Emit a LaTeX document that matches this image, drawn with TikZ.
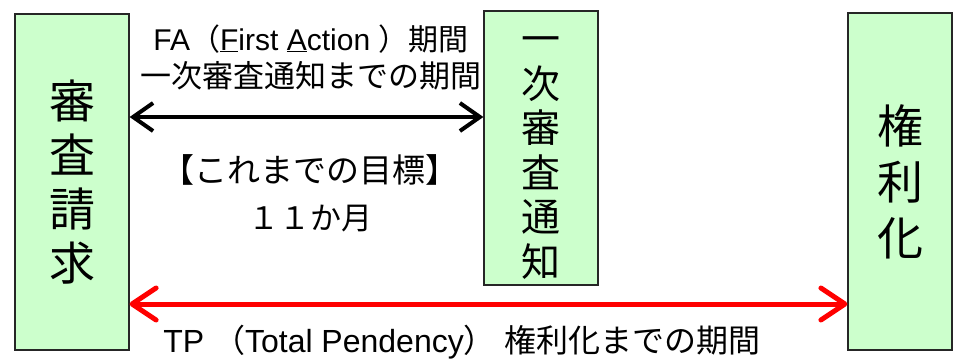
\documentclass[tikz,border=0pt]{standalone}
\usepackage{fontspec}
\setmainfont{Liberation Sans}
\newfontfamily\cjk{Noto Sans CJK JP}
\usetikzlibrary{arrows.meta}
\definecolor{boxgreen}{HTML}{CCFFCC}
\tikzset{
  stage/.style={draw=black!85, line width=1.2pt, fill=boxgreen, inner sep=0pt},
  vtext/.style={inner sep=0pt, align=center},
  lbl/.style={inner sep=0pt, align=center, font=\fontsize{30}{37}\selectfont},
  faarrow/.style={line width=4pt, {Straight Barb[length=20pt,width=28pt,line width=4pt]}-{Straight Barb[length=20pt,width=28pt,line width=4pt]}},
  tparrow/.style={red, line width=5pt, line cap=round, {Straight Barb[length=24pt,width=32pt,round,line width=5pt]}-{Straight Barb[length=24pt,width=32pt,round,line width=5pt]}}
}
\begin{document}
\begin{tikzpicture}[x=1pt,y=-1pt]
\useasboundingbox (0,0) rectangle (953,360);
\node[stage, minimum width=114pt, minimum height=336pt] (req) at (72,182) {};
\node[stage, minimum width=114pt, minimum height=274pt] (fa) at (541,148) {};
\node[stage, minimum width=104pt, minimum height=337pt] (grant) at (900,181.5) {};
\node[vtext, font=\cjk\fontsize{46}{54}\selectfont] (reqtxt) at (req.center) {審\\査\\請\\求};
\node[vtext, font=\cjk\fontsize{39}{44.5}\selectfont] (fatxt) at ([yshift=-10pt]fa.center) {一\\次\\審\\査\\通\\知};
\node[vtext, font=\cjk\fontsize{46}{56}\selectfont] (granttxt) at (grant.center) {権\\利\\化};
\coordinate (yfa) at (0,117);
\coordinate (ytp) at (0,304);
\draw[faarrow] (req.east |- yfa) -- (fa.west |- yfa);
\draw[tparrow] (req.east |- ytp) -- (grant.west |- ytp);
\node[lbl] (falbl) at (311,57) {FA{\cjk（}\underline{F}irst \underline{A}ction {\cjk）期間}\\{\cjk\fontsize{31}{37}\selectfont 一次審査通知までの期間}};
\node[vtext] (goal1) at (310,170) {\cjk\fontsize{33}{40}\selectfont 【これまでの目標】};
\node[vtext] (goal2) at (310,219) {\cjk\fontsize{31}{40}\selectfont １１か月};
\node[lbl, font=\fontsize{32}{37}\selectfont] (tplbl) at (462,342) {TP {\cjk（}Total Pendency{\cjk）} {\cjk 権利化までの期間}};
\end{tikzpicture}
\end{document}
